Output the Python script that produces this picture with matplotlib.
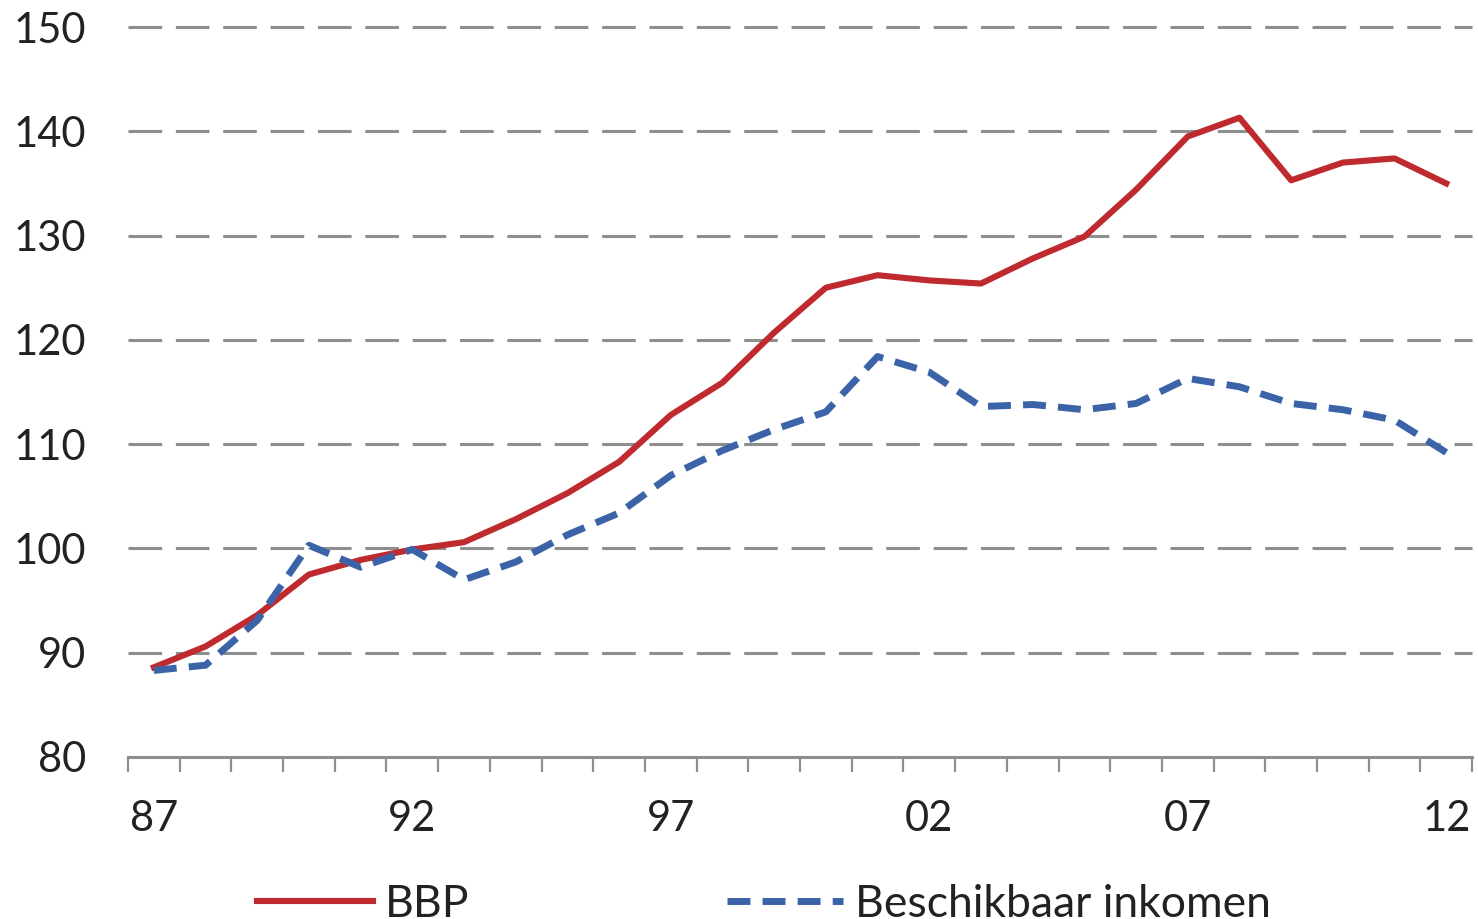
import matplotlib
matplotlib.use("Agg")
import matplotlib.pyplot as plt
from matplotlib.lines import Line2D
from matplotlib.ticker import FixedLocator, NullFormatter

# jaren 1987 t/m 2012, index (1987 = 100 rond 1992)
jaren = list(range(1987, 2013))
bbp = [88.6, 90.6, 93.6, 97.5, 98.9, 99.9, 100.6, 102.8, 105.3, 108.3,
       112.8, 115.9, 120.7, 125.0, 126.2, 125.7, 125.4, 127.8, 129.9, 134.4,
       139.5, 141.3, 135.3, 137.0, 137.4, 135.0]
inkomen = [88.3, 88.8, 93.1, 100.3, 98.2, 99.9, 97.0, 98.7, 101.3, 103.4,
           107.0, 109.4, 111.4, 113.1, 118.4, 116.9, 113.6, 113.8, 113.3, 113.9,
           116.3, 115.5, 113.9, 113.3, 112.3, 109.2]
tick_labels = ["87", "92", "97", "02", "07", "12"]
y_ticks = [80, 90, 100, 110, 120, 130, 140, 150]

plt.rcParams['font.family'] = ['Lato', 'DejaVu Sans']

fig = plt.figure(figsize=(14.78, 9.19), dpi=100)
ax = fig.add_axes([0.0866, 0.1763, 0.9094, 0.7943])

x = list(range(len(jaren)))
rood = '#BE2A2E'
blauw = '#3B64A8'
streep = (0, (3.3, 1.75))

# horizontale hulplijnen
for v in y_ticks[1:]:
    ax.axhline(v, color='#8E8E8E', lw=2.2, linestyle=(0, (11, 4.5)), zorder=1, clip_on=False)

ax.plot(x, bbp, color=rood, lw=4.4, zorder=3)
ax.plot(x, inkomen, color=blauw, lw=5.0, linestyle=streep, zorder=3)

ax.set_xlim(-0.5, len(jaren) - 0.5)
ax.set_ylim(80, 150)

for s in ['top', 'right', 'left']:
    ax.spines[s].set_visible(False)
ax.spines['bottom'].set_color('#8E8E8E')
ax.spines['bottom'].set_linewidth(2.2)

ax.set_yticks(y_ticks)
ax.set_yticklabels([str(v) for v in y_ticks])
ax.tick_params(axis='y', length=0, pad=30, labelsize=30, colors='#222222')

ax.set_xticks([0, 5, 10, 15, 20, 25])
ax.set_xticklabels(tick_labels)
ax.xaxis.set_minor_locator(FixedLocator([i - 0.5 for i in range(len(jaren) + 1)]))
ax.xaxis.set_minor_formatter(NullFormatter())
ax.tick_params(axis='x', which='major', length=0, pad=31, labelsize=30, colors='#222222')
ax.tick_params(axis='x', which='minor', length=11, width=1.6, color='#8E8E8E', direction='out')

handles = [Line2D([], [], color=rood, lw=4.4),
           Line2D([], [], color=blauw, lw=5.0, linestyle=streep)]
fig.legend(handles, ['BBP', 'Beschikbaar inkomen'], loc='center',
           bbox_to_anchor=(0.517, 0.016), ncol=2, frameon=False, fontsize=32,
           handlelength=2.6, handletextpad=0.27, columnspacing=5.8,
           labelcolor='#222222')

fig.savefig('out.png', dpi=100)
